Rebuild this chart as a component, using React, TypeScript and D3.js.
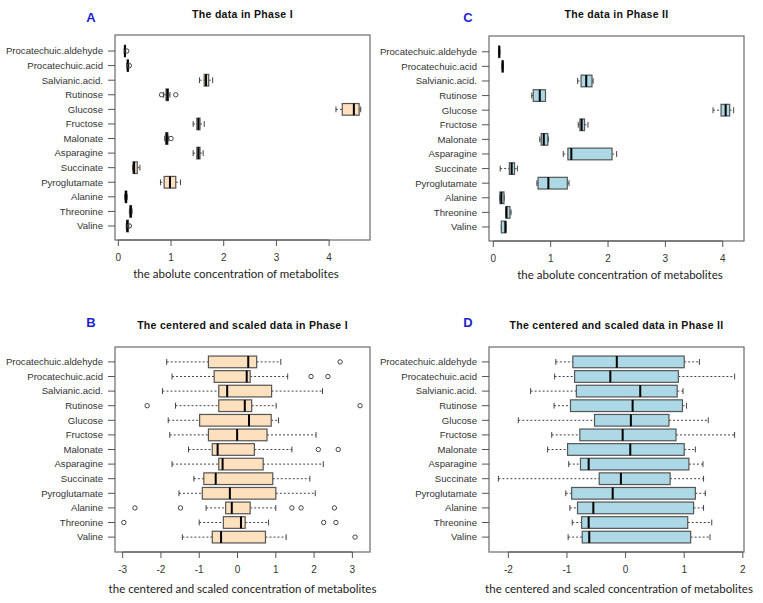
import React, { useEffect, useRef } from 'react';
import * as d3 from 'd3';

// metabolites, listed top to bottom as in the figure
const metabolites = [
  'Procatechuic.aldehyde', 'Procatechuic.acid', 'Salvianic.acid.', 'Rutinose',
  'Glucose', 'Fructose', 'Malonate', 'Asparagine', 'Succinate',
  'Pyroglutamate', 'Alanine', 'Threonine', 'Valine',
];

// [lower whisker, Q1, median, Q3, upper whisker]
type Stat = [number, number, number, number, number];

const phase1Raw: Stat[] = [
  [0.11, 0.12, 0.125, 0.135, 0.14],
  [0.16, 0.17, 0.18, 0.19, 0.2],
  [1.54, 1.63, 1.665, 1.715, 1.79],
  [0.86, 0.905, 0.93, 0.95, 0.98],
  [4.13, 4.25, 4.47, 4.57, 4.6],
  [1.42, 1.49, 1.52, 1.55, 1.63],
  [0.88, 0.9, 0.92, 0.94, 0.95],
  [1.42, 1.49, 1.52, 1.55, 1.61],
  [0.27, 0.28, 0.3, 0.36, 0.41],
  [0.8, 0.87, 0.98, 1.09, 1.18],
  [0.12, 0.13, 0.145, 0.16, 0.17],
  [0.21, 0.22, 0.235, 0.25, 0.26],
  [0.15, 0.16, 0.17, 0.19, 0.2],
];
const phase1RawOut: number[][] = [
  [0.16], [0.21], [], [0.82, 1.09], [], [], [1.0], [], [], [], [], [], [0.21],
];

const phase2Raw: Stat[] = [
  [0.09, 0.095, 0.104, 0.11, 0.115],
  [0.15, 0.155, 0.163, 0.17, 0.175],
  [1.47, 1.53, 1.62, 1.72, 1.74],
  [0.67, 0.696, 0.81, 0.91, 0.91],
  [3.83, 3.97, 4.05, 4.12, 4.19],
  [1.48, 1.51, 1.54, 1.59, 1.65],
  [0.81, 0.835, 0.88, 0.95, 0.96],
  [1.22, 1.3, 1.36, 2.07, 2.15],
  [0.12, 0.28, 0.32, 0.37, 0.42],
  [0.76, 0.78, 0.96, 1.29, 1.32],
  [0.11, 0.116, 0.14, 0.186, 0.19],
  [0.22, 0.22, 0.23, 0.29, 0.31],
  [0.14, 0.14, 0.21, 0.22, 0.22],
];
const phase2RawOut: number[][] = [[], [], [], [], [], [], [], [], [], [], [], [], []];

const phase1Scaled: Stat[] = [
  [-1.85, -0.76, 0.28, 0.5, 1.13],
  [-1.71, -0.61, 0.24, 0.33, 1.31],
  [-1.96, -0.49, -0.27, 0.89, 2.22],
  [-1.62, -0.49, 0.19, 0.37, 1.01],
  [-1.81, -0.99, 0.3, 0.88, 1.07],
  [-1.77, -0.76, -0.01, 0.77, 2.05],
  [-1.28, -0.66, -0.52, 0.44, 1.42],
  [-1.71, -0.49, -0.39, 0.67, 2.24],
  [-1.14, -0.88, -0.57, 0.92, 1.89],
  [-1.53, -0.92, -0.2, 1.0, 2.03],
  [-0.82, -0.31, -0.15, 0.33, 1.0],
  [-1.0, -0.37, 0.09, 0.2, 0.81],
  [-1.44, -0.66, -0.43, 0.73, 1.27],
];
const phase1ScaledOut: number[][] = [
  [2.68], [1.92, 2.36], [], [-2.36, 3.2], [], [], [2.11, 2.63], [], [], [],
  [-2.68, -1.49, 1.42, 1.66, 2.53], [-2.97, 2.25, 2.57], [3.07],
];

const phase2Scaled: Stat[] = [
  [-1.19, -0.9, -0.15, 1.0, 1.26],
  [-1.21, -0.87, -0.26, 0.9, 1.86],
  [-1.62, -0.84, 0.25, 0.88, 0.98],
  [-1.22, -0.94, 0.12, 0.97, 1.04],
  [-1.83, -0.53, 0.09, 0.74, 1.41],
  [-1.26, -0.78, -0.05, 0.86, 1.86],
  [-1.33, -0.99, 0.08, 1.0, 1.19],
  [-0.97, -0.77, -0.63, 1.08, 1.32],
  [-2.17, -0.45, -0.08, 0.76, 1.33],
  [-1.02, -0.92, -0.22, 1.19, 1.36],
  [-0.95, -0.82, -0.55, 1.16, 1.33],
  [-0.91, -0.75, -0.63, 1.06, 1.47],
  [-0.98, -0.74, -0.62, 1.11, 1.44],
];
const phase2ScaledOut: number[][] = [[], [], [], [], [], [], [], [], [], [], [], [], []];

const ticksRaw = [0, 1, 2, 3, 4];
const ticksB = [-3, -2, -1, 0, 1, 2, 3];
const ticksD = [-2, -1, 0, 1, 2];

const PEACH = '#fde1bf';
const BLUE = '#add8e6';

const panels = [
  {
    letter: 'A', title: 'The data in Phase I', xlab: 'the abolute concentration of metabolites',
    stats: phase1Raw, out: phase1RawOut, ticks: ticksRaw, fill: PEACH,
    box: { l: 115, r: 370, t: 35, b: 240 }, xdom: [-0.063, 4.776], ydom: [0.04, 14.1],
    letterX: 91, letterY: 22, titleY: 17.5, tickY: 261, xlabX: 236, xlabY: 278,
  },
  {
    letter: 'C', title: 'The data in Phase II', xlab: 'the abolute concentration of metabolites',
    stats: phase2Raw, out: phase2RawOut, ticks: ticksRaw, fill: BLUE,
    box: { l: 489, r: 744, t: 36, b: 241 }, xdom: [-0.075, 4.37], ydom: [0.04, 14.08],
    letterX: 468, letterY: 22, titleY: 17.5, tickY: 262, xlabX: 620, xlabY: 279,
  },
  {
    letter: 'B', title: 'The centered and scaled data in Phase I',
    xlab: 'the centered and scaled concentration of metabolites',
    stats: phase1Scaled, out: phase1ScaledOut, ticks: ticksB, fill: PEACH,
    box: { l: 115, r: 370, t: 347, b: 552 }, xdom: [-3.2, 3.46], ydom: [-0.02, 14.02],
    letterX: 91, letterY: 327, titleY: 329, tickY: 573, xlabX: 242.5, xlabY: 593,
  },
  {
    letter: 'D', title: 'The centered and scaled data in Phase II',
    xlab: 'the centered and scaled concentration of metabolites',
    stats: phase2Scaled, out: phase2ScaledOut, ticks: ticksD, fill: BLUE,
    box: { l: 489, r: 744, t: 347, b: 552 }, xdom: [-2.33, 2.02], ydom: [-0.02, 14.02],
    letterX: 468, letterY: 327, titleY: 329, tickY: 573, xlabX: 619, xlabY: 593,
  },
];

const App = () => {
  const ref = useRef<SVGSVGElement>(null);

  useEffect(() => {
    const svg = d3.select(ref.current);
    svg.selectAll('*').remove();

    panels.forEach((p) => {
      const g = svg.append('g');
      const { l, r, t, b } = p.box;
      const x = d3.scaleLinear().domain(p.xdom).range([l, r]);
      const y = d3.scaleLinear().domain(p.ydom).range([b, t]);
      const n = metabolites.length;
      const pos = (i: number) => y(n - i);
      const half = (y(0) - y(0.4));
      const staple = (y(0) - y(0.2));

      // panel letter and title
      g.append('text')
        .attr('x', p.letterX).attr('y', p.letterY)
        .attr('text-anchor', 'middle')
        .style('font-family', 'Liberation Sans, Arial, sans-serif')
        .style('font-weight', 'bold').style('font-size', '13px')
        .style('fill', '#1f1fd0')
        .text(p.letter);
      g.append('text')
        .attr('x', (l + r) / 2).attr('y', p.titleY)
        .attr('text-anchor', 'middle')
        .style('font-family', 'Liberation Sans, Arial, sans-serif')
        .style('font-weight', 'bold').style('font-size', '10.5px')
        .style('letter-spacing', '0.3px')
        .style('fill', '#111')
        .text(p.title);

      // frame
      g.append('rect')
        .attr('x', l).attr('y', t).attr('width', r - l).attr('height', b - t)
        .style('fill', 'none').style('stroke', '#6a6a6a').style('stroke-width', 1.2);

      // y axis
      metabolites.forEach((m, i) => {
        g.append('line')
          .attr('x1', l - 7).attr('x2', l).attr('y1', pos(i)).attr('y2', pos(i))
          .style('stroke', '#555');
        g.append('text')
          .attr('x', l - 12).attr('y', pos(i)).attr('dy', '0.35em')
          .attr('text-anchor', 'end')
          .style('font-family', 'Liberation Sans, Arial, sans-serif')
          .style('font-size', '9.6px').style('fill', '#333')
          .text(m);
      });

      // x axis
      g.append('line')
        .attr('x1', x(p.ticks[0])).attr('x2', x(p.ticks[p.ticks.length - 1]))
        .attr('y1', b).attr('y2', b).style('stroke', '#555');
      p.ticks.forEach((tv) => {
        g.append('line')
          .attr('x1', x(tv)).attr('x2', x(tv)).attr('y1', b).attr('y2', b + 6)
          .style('stroke', '#555');
        g.append('text')
          .attr('x', x(tv)).attr('y', p.tickY)
          .attr('text-anchor', 'middle')
          .style('font-family', 'Liberation Sans, Arial, sans-serif')
          .style('font-size', '10px').style('fill', '#333')
          .text(tv);
      });
      g.append('text')
        .attr('x', p.xlabX).attr('y', p.xlabY)
        .attr('text-anchor', 'middle')
        .style('font-family', 'Lato, sans-serif')
        .style('font-size', '11.5px').style('fill', '#222')
        .text(p.xlab);

      // boxes
      p.stats.forEach((s, i) => {
        const [lo, q1, med, q3, hi] = s;
        const cy = pos(i);
        const wg = g.append('g');
        [[lo, q1], [q3, hi]].forEach(([a, c]) => {
          wg.append('line')
            .attr('x1', x(a)).attr('x2', x(c)).attr('y1', cy).attr('y2', cy)
            .style('stroke', '#444').style('stroke-dasharray', '2,2');
        });
        [lo, hi].forEach((v) => {
          wg.append('line')
            .attr('x1', x(v)).attr('x2', x(v)).attr('y1', cy - staple).attr('y2', cy + staple)
            .style('stroke', '#444');
        });
        wg.append('rect')
          .attr('x', x(q1)).attr('y', cy - half)
          .attr('width', Math.max(x(q3) - x(q1), 0.5)).attr('height', 2 * half)
          .style('fill', p.fill).style('stroke', '#555').style('stroke-width', 1.2);
        wg.append('line')
          .attr('x1', x(med)).attr('x2', x(med)).attr('y1', cy - half).attr('y2', cy + half)
          .style('stroke', '#000').style('stroke-width', 2);
        p.out[i].forEach((o) => {
          wg.append('circle')
            .attr('cx', x(o)).attr('cy', cy).attr('r', 2.2)
            .style('fill', 'none').style('stroke', '#444');
        });
      });
    });
  }, []);

  return (
    <svg ref={ref} width={763} height={603}
      style={{ position: 'absolute', left: 0, top: 0, background: '#fff' }} />
  );
};

export default App;
